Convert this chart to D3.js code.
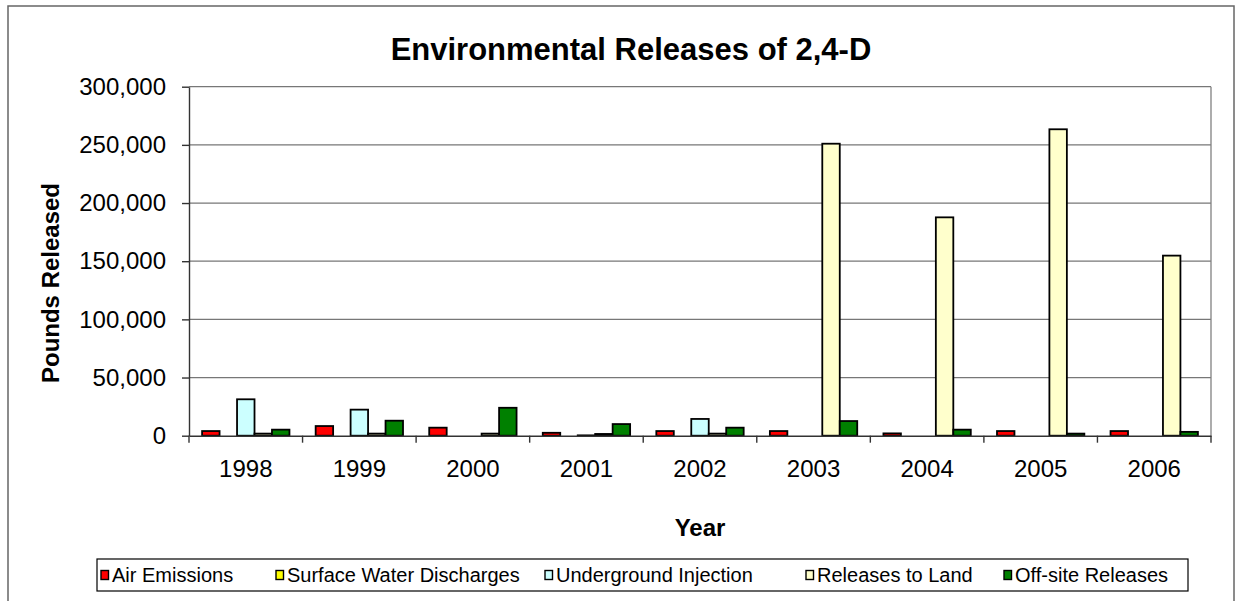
<!DOCTYPE html>
<html>
<head>
<meta charset="utf-8">
<script src="https://cdn.jsdelivr.net/npm/d3@7"></script>
<style>
  html, body { margin: 0; padding: 0; background: #fff; }
  svg { display: block; font-family: "Liberation Sans", Arial, sans-serif; }
</style>
</head>
<body>
<svg id="chart" width="1236" height="601"></svg>
<script>
// ---- Data ----
const years = ['1998', '1999', '2000', '2001', '2002', '2003', '2004', '2005', '2006'];
const seriesNames = ['Air Emissions', 'Surface Water Discharges', 'Underground Injection', 'Releases to Land', 'Off-site Releases'];
const airEmissions   = [4000, 8300, 6900, 2500, 4000, 4000, 2000, 4000, 4000];
const surfaceWater   = [0, 0, 0, 0, 0, 0, 0, 0, 0];
const undergroundInj = [31300, 22400, 0, 300, 14400, 0, 0, 0, 0];
const releasesLand   = [1800, 1800, 1800, 1500, 1800, 251000, 187700, 263400, 154800];
const offsiteRel     = [5200, 12900, 24000, 10000, 6900, 12600, 5200, 1800, 3300];
const yTicks = [0, 50000, 100000, 150000, 200000, 250000, 300000];
const seriesColors = ['#FF0000', '#FFFF00', '#CCFFFF', '#FFFFCC', '#008000'];

const seriesValues = [airEmissions, surfaceWater, undergroundInj, releasesLand, offsiteRel];

// ---- Layout ----
const svg = d3.select('#chart');
const plot = { left: 189, right: 1211, top: 86.7, bottom: 435.7 };

svg.append('rect').attr('x', 0).attr('y', 0).attr('width', 1236).attr('height', 601).attr('fill', '#fff');
// outer chart border
svg.append('rect').attr('x', 8).attr('y', 6).attr('width', 1226).attr('height', 620)
  .attr('fill', 'none').attr('stroke', '#666').attr('stroke-width', 1.5);

const x = d3.scaleBand().domain(years).range([plot.left, plot.right]).paddingInner(0).paddingOuter(0);
const gapRatio = 1.5;
const barW = x.bandwidth() / (seriesNames.length + gapRatio);
const xInner = d3.scaleBand().domain(d3.range(seriesNames.length))
  .range([barW * gapRatio / 2, barW * gapRatio / 2 + barW * seriesNames.length]).padding(0);
const y = d3.scaleLinear().domain([0, 300000]).range([plot.bottom, plot.top]);

// gridlines
svg.append('g').selectAll('line').data(yTicks.filter(d => d > 0)).join('line')
  .attr('x1', plot.left).attr('x2', plot.right)
  .attr('y1', d => y(d)).attr('y2', d => y(d))
  .attr('stroke', '#777').attr('stroke-width', 1.3);
// right border of plot
svg.append('line').attr('x1', plot.right).attr('x2', plot.right)
  .attr('y1', plot.top).attr('y2', plot.bottom).attr('stroke', '#808080').attr('stroke-width', 1.3);

// bars
const groups = svg.append('g').selectAll('g').data(years).join('g')
  .attr('transform', d => `translate(${x(d)},0)`);
groups.selectAll('rect').data((d, i) => seriesValues.map((vals, s) => ({ s, v: vals[i] }))).join('rect')
  .attr('x', d => xInner(d.s))
  .attr('width', xInner.bandwidth())
  .attr('y', d => y(d.v))
  .attr('height', d => y(0) - y(d.v))
  .attr('fill', d => seriesColors[d.s])
  .attr('stroke', '#000').attr('stroke-width', 1.8);

// y axis
const yAxis = d3.axisLeft(y).tickValues(yTicks).tickSize(7).tickSizeOuter(0).tickPadding(16)
  .tickFormat(d3.format(','));
const gy = svg.append('g').attr('transform', `translate(${plot.left},0)`).call(yAxis);
gy.select('.domain').attr('stroke', '#333').attr('stroke-width', 1.4);
gy.selectAll('.tick line').attr('stroke', '#333').attr('stroke-width', 1.4);
gy.selectAll('.tick text').attr('font-size', 24).attr('fill', '#000')
  .attr('font-family', '"Liberation Sans", Arial, sans-serif');

// x axis
const xAxis = d3.axisBottom(x).tickSize(0).tickSizeOuter(0).tickPadding(24);
const gx = svg.append('g').attr('transform', `translate(0,${plot.bottom})`).call(xAxis);
gx.select('.domain').attr('stroke', '#333').attr('stroke-width', 1.4);
gx.selectAll('.tick text').attr('font-size', 24).attr('fill', '#000')
  .attr('font-family', '"Liberation Sans", Arial, sans-serif');
const boundaries = years.map(d => x(d)).concat([x(years[years.length - 1]) + x.bandwidth()]);
svg.append('g').selectAll('line').data(boundaries).join('line')
  .attr('x1', d => d).attr('x2', d => d)
  .attr('y1', plot.bottom).attr('y2', plot.bottom + 7)
  .attr('stroke', '#333').attr('stroke-width', 1.4);

// title
svg.append('text').attr('x', 631).attr('y', 60).attr('text-anchor', 'middle')
  .attr('font-size', 31).attr('font-weight', 'bold').text('Environmental Releases of 2,4-D');

// axis titles
svg.append('text').attr('transform', 'translate(58.5,283) rotate(-90)').attr('text-anchor', 'middle')
  .attr('font-size', 24).attr('font-weight', 'bold').text('Pounds Released');
svg.append('text').attr('x', (plot.left + plot.right) / 2).attr('y', 535.5).attr('text-anchor', 'middle')
  .attr('font-size', 24).attr('font-weight', 'bold').text('Year');

// legend
const legend = svg.append('g');
legend.append('rect').attr('x', 97).attr('y', 559).attr('width', 1091).attr('height', 32)
  .attr('fill', '#fff').attr('stroke', '#000').attr('stroke-width', 1.2);
const legendX = [101, 276, 545, 806, 1004];
const items = legend.selectAll('g.item').data(seriesNames).join('g').attr('class', 'item')
  .attr('transform', (d, i) => `translate(${legendX[i]},0)`);
items.append('rect').attr('x', 0).attr('y', 570.5).attr('width', 7.5).attr('height', 9)
  .attr('fill', (d, i) => seriesColors[i]).attr('stroke', '#000').attr('stroke-width', 1.4);
items.append('text').attr('x', 11).attr('y', 582).attr('font-size', 20).text(d => d);
</script>
</body>
</html>
